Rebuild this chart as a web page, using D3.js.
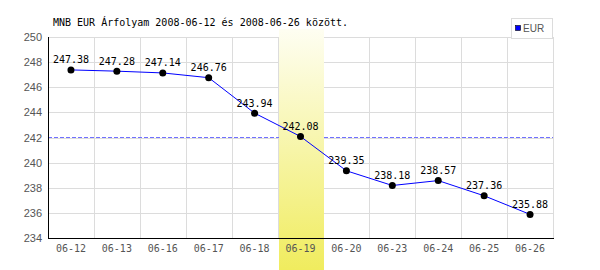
<!DOCTYPE html>
<html>
<head>
<meta charset="utf-8">
<script src="https://cdn.jsdelivr.net/npm/d3@7"></script>
<style>
  body { margin: 0; background: #fff; }
</style>
</head>
<body>
<svg id="chart" width="600" height="270"></svg>
<script>
var dates = ["06-12", "06-13", "06-16", "06-17", "06-18", "06-19", "06-20", "06-23", "06-24", "06-25", "06-26"];
var eurValues = [247.38, 247.28, 247.14, 246.76, 243.94, 242.08, 239.35, 238.18, 238.57, 237.36, 235.88];
var yTicks = [234, 236, 238, 240, 242, 244, 246, 248, 250];
var refLine = 242.05;
var highlightDate = "06-19";
var title = "MNB EUR Árfolyam 2008-06-12 és 2008-06-26 között.";

var svg = d3.select("#chart");
var plotLeft = 48, plotRight = 553, plotTop = 37, plotBottom = 238;
var mono = "'DejaVu Sans Mono', 'Liberation Mono', monospace";

var x = d3.scaleBand().domain(dates).range([plotLeft, plotRight]);
var y = d3.scaleLinear().domain([234, 250]).range([plotBottom, plotTop]);

var data = dates.map(function(d, i) { return { date: d, value: eurValues[i] }; });

// gradient for highlighted day
var defs = svg.append("defs");
var grad = defs.append("linearGradient").attr("id", "hl")
    .attr("x1", 0).attr("y1", 0).attr("x2", 0).attr("y2", 1);
grad.append("stop").attr("offset", "0%").attr("stop-color", "#fefef2");
grad.append("stop").attr("offset", "100%").attr("stop-color", "#f0ec5e");

// grid
svg.append("g").selectAll("line")
  .data(yTicks).enter().append("line")
    .attr("x1", plotLeft).attr("x2", plotRight)
    .attr("y1", function(d) { return Math.round(y(d)) + 0.5; })
    .attr("y2", function(d) { return Math.round(y(d)) + 0.5; })
    .attr("stroke", "#dcdcdc");

svg.append("g").selectAll("line")
  .data(dates).enter().append("line")
    .attr("x1", function(d) { return Math.round(x(d) + x.step()) + 0.5; })
    .attr("x2", function(d) { return Math.round(x(d) + x.step()) + 0.5; })
    .attr("y1", plotTop).attr("y2", plotBottom)
    .attr("stroke", "#dcdcdc");

// reference line
svg.append("line")
    .attr("x1", plotLeft).attr("x2", plotRight)
    .attr("y1", Math.round(y(refLine)) + 0.5).attr("y2", Math.round(y(refLine)) + 0.5)
    .attr("stroke", "#7070ff")
    .attr("shape-rendering", "crispEdges")
    .attr("stroke-dasharray", "4,2");

// highlight band
svg.append("rect")
    .attr("x", Math.round(x(highlightDate)) + 1)
    .attr("y", 29)
    .attr("width", Math.round(x.bandwidth()) - 1)
    .attr("height", 270 - 29)
    .attr("fill", "url(#hl)");

// axes lines
svg.append("line")
    .attr("x1", plotLeft + 0.5).attr("x2", plotLeft + 0.5)
    .attr("y1", plotTop).attr("y2", plotBottom + 1)
    .attr("stroke", "#000");
svg.append("line")
    .attr("x1", plotLeft).attr("x2", plotRight + 1)
    .attr("y1", plotBottom + 0.5).attr("y2", plotBottom + 0.5)
    .attr("stroke", "#000");

// y labels
svg.append("g").selectAll("text")
  .data(yTicks).enter().append("text")
    .attr("x", 42)
    .attr("y", function(d) { return y(d) + 4; })
    .attr("text-anchor", "end")
    .attr("font-family", "'Liberation Sans', Arial, sans-serif")
    .attr("font-size", "11px")
    .attr("fill", "#555")
    .text(function(d) { return d; });

// x labels
svg.append("g").selectAll("text")
  .data(dates).enter().append("text")
    .attr("x", function(d) { return x(d) + x.bandwidth() / 2; })
    .attr("y", 252)
    .attr("text-anchor", "middle")
    .attr("font-family", mono)
    .attr("font-size", "10px")
    .attr("fill", "#555")
    .text(function(d) { return d; });

// data line
var line = d3.line()
    .x(function(d) { return x(d.date) + x.bandwidth() / 2; })
    .y(function(d) { return y(d.value); });

svg.append("path")
    .datum(data)
    .attr("d", line)
    .attr("fill", "none")
    .attr("stroke", "#0000ff")
    .attr("stroke-width", 1);

svg.append("g").selectAll("circle")
  .data(data).enter().append("circle")
    .attr("cx", function(d) { return x(d.date) + x.bandwidth() / 2; })
    .attr("cy", function(d) { return y(d.value); })
    .attr("r", 3.5)
    .attr("fill", "#000");

svg.append("g").selectAll("text")
  .data(data).enter().append("text")
    .attr("x", function(d) { return x(d.date) + x.bandwidth() / 2; })
    .attr("y", function(d) { return y(d.value) - 6.5; })
    .attr("text-anchor", "middle")
    .attr("font-family", mono)
    .attr("font-size", "10px")
    .attr("fill", "#000")
    .text(function(d) { return d.value.toFixed(2); });

// title
svg.append("text")
    .attr("x", 53).attr("y", 26)
    .attr("font-family", mono)
    .attr("font-size", "10px")
    .attr("fill", "#000")
    .text(title);

// legend
var lg = svg.append("g");
lg.append("rect")
    .attr("x", 511.5).attr("y", 18.5).attr("width", 41).attr("height", 20)
    .attr("fill", "#fff").attr("stroke", "#dcdcdc");
lg.append("rect")
    .attr("x", 515.5).attr("y", 25.5).attr("width", 5).attr("height", 5)
    .attr("fill", "#0000ff").attr("stroke", "#000").attr("stroke-width", 0.6);
lg.append("text")
    .attr("x", 523).attr("y", 32)
    .attr("font-family", "'Liberation Sans', Arial, sans-serif")
    .attr("font-size", "10px")
    .attr("fill", "#555")
    .text("EUR");
</script>
</body>
</html>
